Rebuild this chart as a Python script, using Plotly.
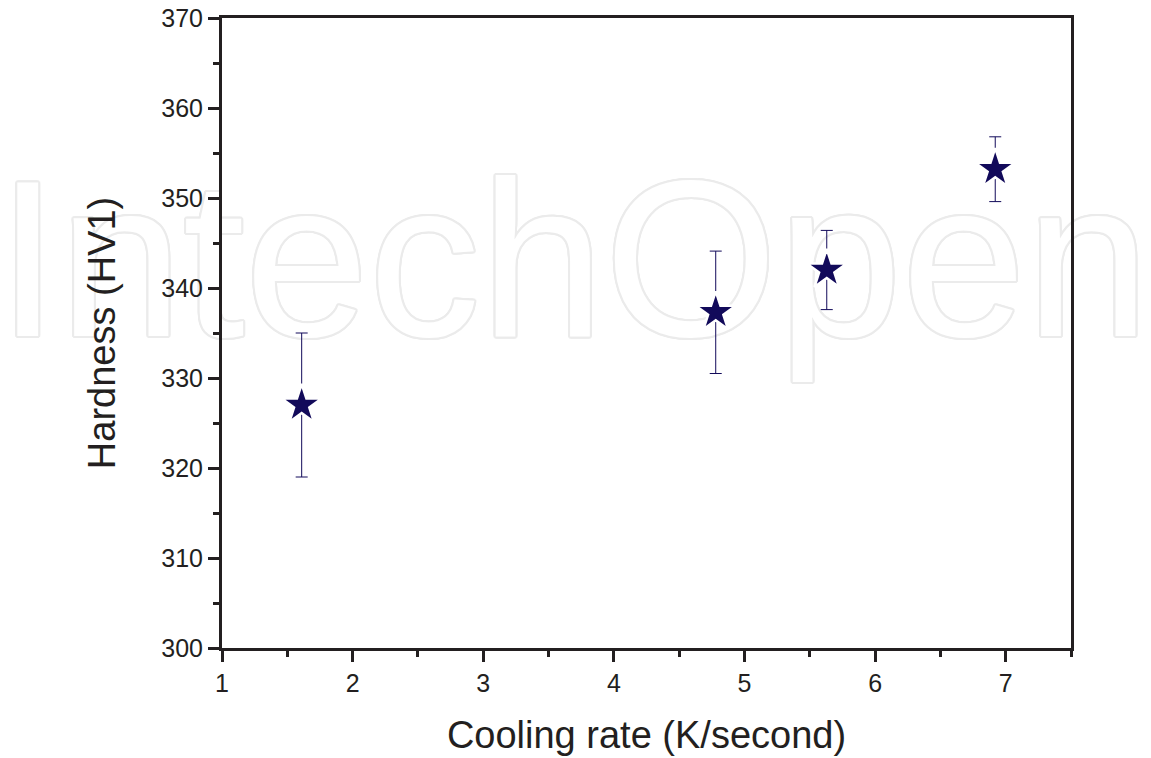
import plotly.graph_objects as go

# Measured hardness vs. cooling rate
cooling_rate = [1.61, 4.78, 5.63, 6.92]          # K/s
hardness = [327.0, 337.3, 342.0, 353.2]          # HV1
hardness_err = [8.0, 6.8, 4.4, 3.6]              # HV1, symmetric

x_ticks = [1, 2, 3, 4, 5, 6, 7]
y_ticks = [300, 310, 320, 330, 340, 350, 360, 370]

NAVY = "#120a5a"
INK = "#231f20"
FONT = "Liberation Sans, Arial, sans-serif"

# Publisher watermark: outline lettering (white fill, grey halo)
wm_gray = "#ebebeb"
offsets = [(2, 0), (-2, 0), (0, 2), (0, -2), (1, 1), (-1, -1), (1, -1), (-1, 1),
           (2, 1), (2, -1), (-2, 1), (-2, -1), (1, 2), (-1, 2), (1, -2), (-1, -2)]
wm_shadow = ", ".join(f"{dx}px {dy}px 0px {wm_gray}" for dx, dy in offsets)

fig = go.Figure()

fig.add_trace(go.Scatter(
    x=[3.69], y=[340.9], mode="text", text=["IntechOpen"],
    textposition="middle center", cliponaxis=False,
    textfont=dict(family=FONT, size=223, color="white", shadow=wm_shadow),
    hoverinfo="skip", showlegend=False,
))

fig.add_trace(go.Scatter(
    x=cooling_rate, y=hardness, mode="markers",
    marker=dict(symbol="star", size=30, color=NAVY,
                line=dict(color="white", width=2.5)),
    error_y=dict(type="data", array=hardness_err, visible=True,
                 color=NAVY, thickness=1, width=6),
    showlegend=False,
))

# empty trace so the mirrored top/right axes get drawn
fig.add_trace(go.Scatter(x=[], y=[], xaxis="x2", yaxis="y2",
                         showlegend=False, hoverinfo="skip"))

axis_common = dict(
    showline=True, linecolor=INK, linewidth=3, mirror=True,
    ticks="outside", tickcolor=INK, tickwidth=3, ticklen=11,
    showgrid=False, zeroline=False, automargin=False,
    tickfont=dict(family=FONT, size=25, color=INK),
)

fig.update_layout(
    width=1151, height=758,
    margin=dict(l=222, r=80, t=18, b=110),
    paper_bgcolor="white", plot_bgcolor="white",
    xaxis=dict(
        range=[1, 7.5], tickvals=x_ticks, ticktext=[str(v) for v in x_ticks],
        minor=dict(dtick=0.5, ticks="outside", ticklen=6, tickwidth=3, tickcolor=INK),
        title=dict(text="Cooling rate (K/second)", standoff=26,
                   font=dict(family=FONT, size=38, color=INK)),
        **axis_common,
    ),
    yaxis=dict(
        range=[300, 370], tickvals=y_ticks, ticktext=[str(v) for v in y_ticks],
        minor=dict(dtick=5, ticks="outside", ticklen=6, tickwidth=3, tickcolor=INK),
        title=dict(text="Hardness (HV1)", standoff=34,
                   font=dict(family=FONT, size=38, color=INK)),
        **axis_common,
    ),
    xaxis2=dict(overlaying="x", matches="x", side="top", anchor="y2",
                showline=False, showgrid=False, zeroline=False, automargin=False,
                showticklabels=False, ticks="outside", dtick=0.5,
                ticklen=2, tickwidth=2, tickcolor=INK),
    yaxis2=dict(overlaying="y", matches="y", side="right", anchor="x2",
                showline=False, showgrid=False, zeroline=False, automargin=False,
                showticklabels=False, ticks="outside", dtick=5,
                ticklen=2, tickwidth=2, tickcolor=INK),
)

fig.write_html("out.html")
